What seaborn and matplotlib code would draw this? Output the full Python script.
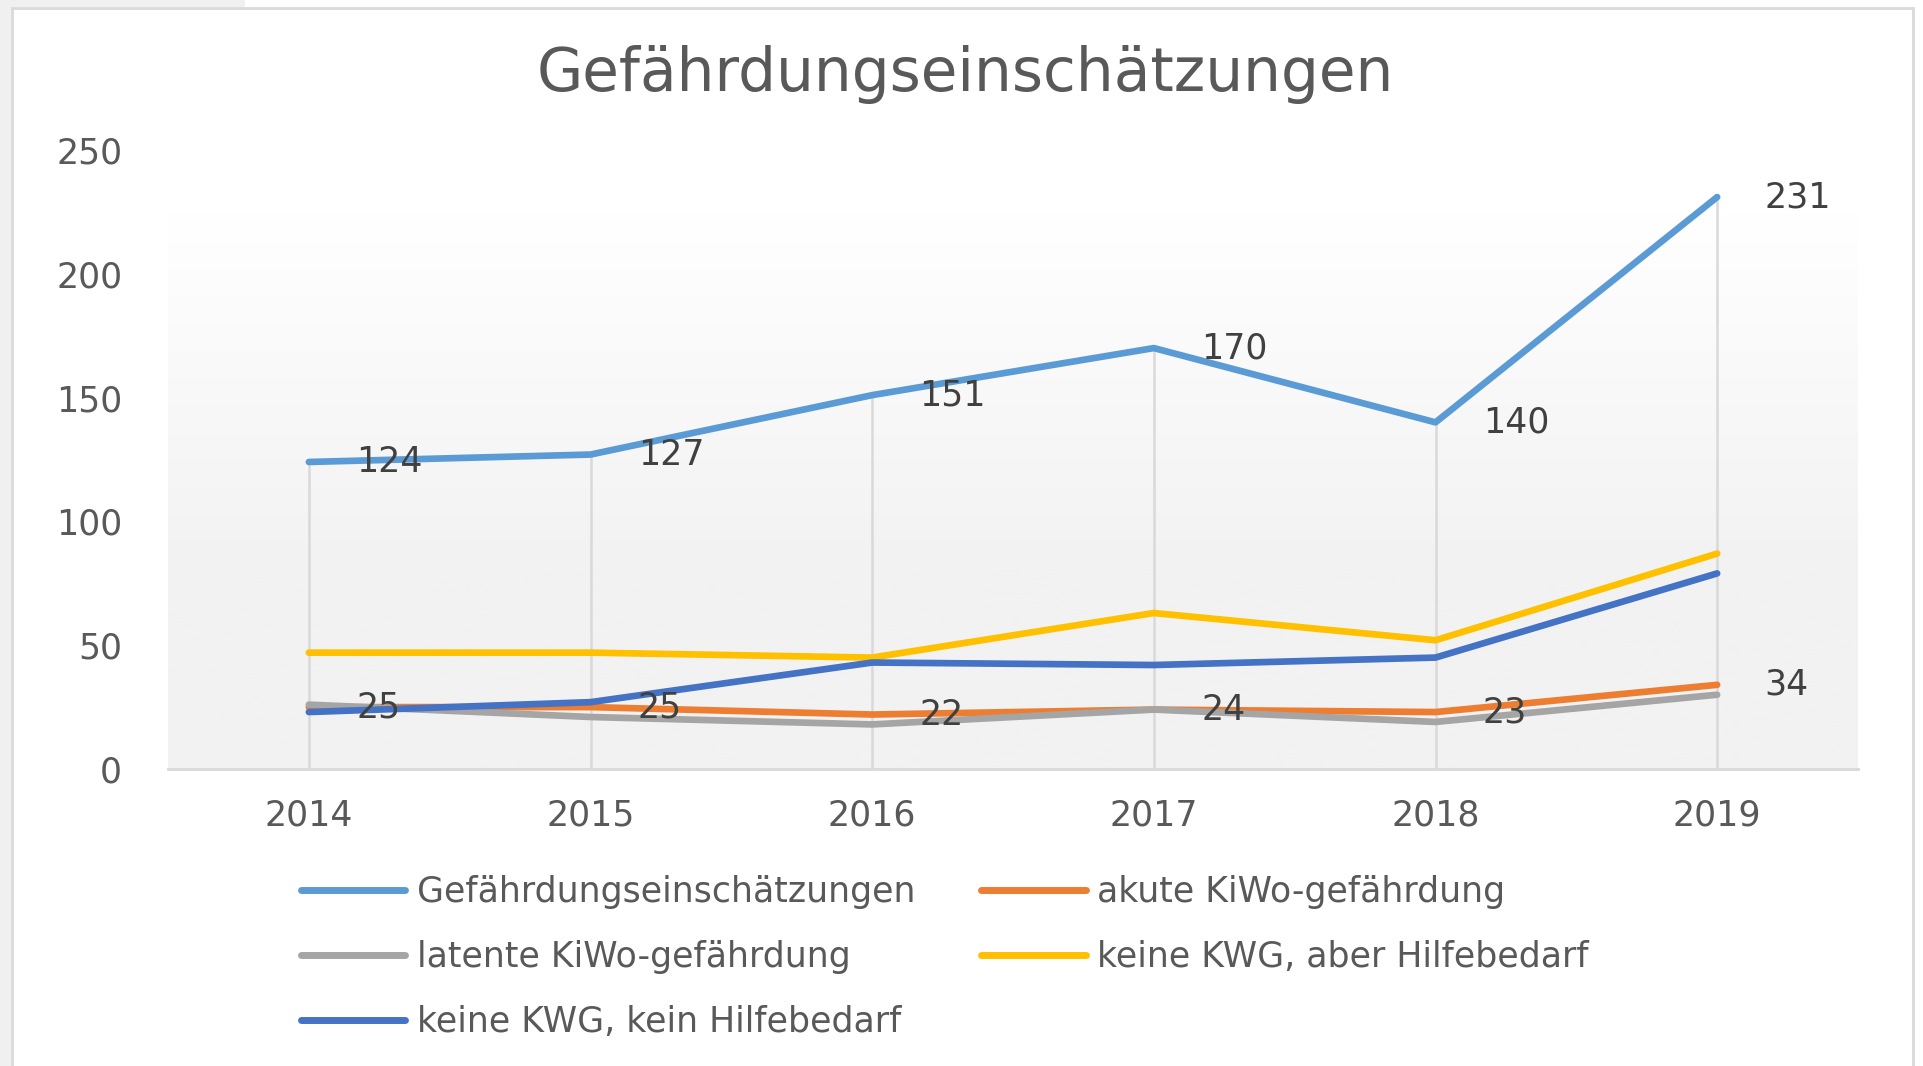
import numpy as np
import pandas as pd
import matplotlib
matplotlib.use('Agg')
import matplotlib.pyplot as plt
from matplotlib.colors import LinearSegmentedColormap
from matplotlib.patches import Rectangle
from matplotlib.lines import Line2D
import seaborn as sns

# Data
years = ['2014', '2015', '2016', '2017', '2018', '2019']
gefaehrdung = [124, 127, 151, 170, 140, 231]
akut = [25, 25, 22, 24, 23, 34]
latent = [26, 21, 18, 24, 19, 30]
hilfe_ja = [47, 47, 45, 63, 52, 87]
hilfe_nein = [23, 27, 43, 42, 45, 79]

series_names = ['Gefährdungseinschätzungen', 'akute KiWo-gefährdung',
                'latente KiWo-gefährdung', 'keine KWG, aber Hilfebedarf',
                'keine KWG, kein Hilfebedarf']
colors = ['#5B9BD5', '#ED7D31', '#A5A5A5', '#FFC000', '#4472C4']
y_ticks = [0, 50, 100, 150, 200, 250]

values = [gefaehrdung, akut, latent, hilfe_ja, hilfe_nein]
df = pd.DataFrame({
    'x': np.tile(np.arange(len(years)), len(series_names)),
    'Wert': np.concatenate(values),
    'Serie': np.repeat(series_names, len(years)),
})

sns.set_theme(style="white")
plt.rcParams['font.family'] = ['DejaVu Sans']
text_color = '#595959'
grid_color = '#d9d9d9'

W, H = 1923, 1066
fig = plt.figure(figsize=(W / 100, H / 100), dpi=100, facecolor='white')

# outer frame like the Excel chart area
fig.patches.append(Rectangle((0, 0), 11 / W, 1, transform=fig.transFigure,
                             facecolor='#f0f0f0', edgecolor='none', zorder=-5))
fig.patches.append(Rectangle((0, 1 - 7 / H), 245 / W, 7 / H, transform=fig.transFigure,
                             facecolor='#f0f0f0', edgecolor='none', zorder=-5))
fig.patches.append(Rectangle((12 / W, -0.02), (1913 - 12) / W, 1.02 - 8 / H,
                             transform=fig.transFigure, facecolor='white',
                             edgecolor=grid_color, linewidth=2, zorder=-5))

ax = fig.add_axes([168 / W, 1 - 769 / H, (1858 - 168) / W, (769 - 150) / H])
ax.set_zorder(2)
ax.set_facecolor('none')

# plot area gradient (white top -> light gray bottom)
t = np.linspace(0, 1, 256).reshape(-1, 1)
val = 250 * (1 - t)
grad = np.clip((225 - val) / (225 - 80), 0, 1)
cmap = LinearSegmentedColormap.from_list('bg', ['#ffffff', '#f2f2f2'])
ax.imshow(grad, extent=[-0.5, len(years) - 0.5, 0, 250], aspect='auto',
          cmap=cmap, vmin=0, vmax=1, zorder=0, interpolation='bilinear')

# drop lines
max_vals = np.max(np.array(values), axis=0)
ax.vlines(np.arange(len(years)), 0, max_vals, color=grid_color, linewidth=1.8, zorder=1)

sns.lineplot(data=df, x='x', y='Wert', hue='Serie', hue_order=series_names,
             palette=colors, linewidth=4.8, ax=ax, legend=False, sort=False,
             solid_capstyle='round', zorder=3)

# data labels for the first two series
for vals in [gefaehrdung, akut]:
    for i, v in enumerate(vals):
        ax.annotate(str(v), (i, v), xytext=(34, 0), textcoords='offset points',
                    ha='left', va='center', fontsize=25, color='#404040', zorder=5)

ax.set_xlim(-0.5, len(years) - 0.5)
ax.set_ylim(0, 250)
ax.set_xticks(np.arange(len(years)))
ax.set_xticklabels(years)
ax.set_yticks(y_ticks)
ax.tick_params(axis='both', length=0, labelsize=25, labelcolor=text_color)
ax.tick_params(axis='y', pad=33)
ax.tick_params(axis='x', pad=21)
ax.set_xlabel('')
ax.set_ylabel('')
ax.grid(False)
for side in ['left', 'right', 'top']:
    ax.spines[side].set_visible(False)
ax.spines['bottom'].set_color(grid_color)
ax.spines['bottom'].set_linewidth(2)

fig.text(965 / W, 1 - 74 / H, 'Gefährdungseinschätzungen', ha='center', va='center',
         fontsize=43, color=text_color)

# legend, row-major order like the reference
handles = [Line2D([0], [0], color=c, linewidth=5, solid_capstyle='round') for c in colors]
order = [0, 2, 4, 1, 3]
leg = fig.legend([handles[i] for i in order], [series_names[i] for i in order],
                 loc='upper left', bbox_to_anchor=(301 / W, 1 - 875 / H), ncol=2,
                 frameon=False, fontsize=25, handlelength=3.0, handletextpad=0.34,
                 columnspacing=1.9, labelspacing=0.9, borderpad=0, borderaxespad=0)
for txt in leg.get_texts():
    txt.set_color(text_color)

fig.savefig('out.png', dpi=100)
plt.close()
